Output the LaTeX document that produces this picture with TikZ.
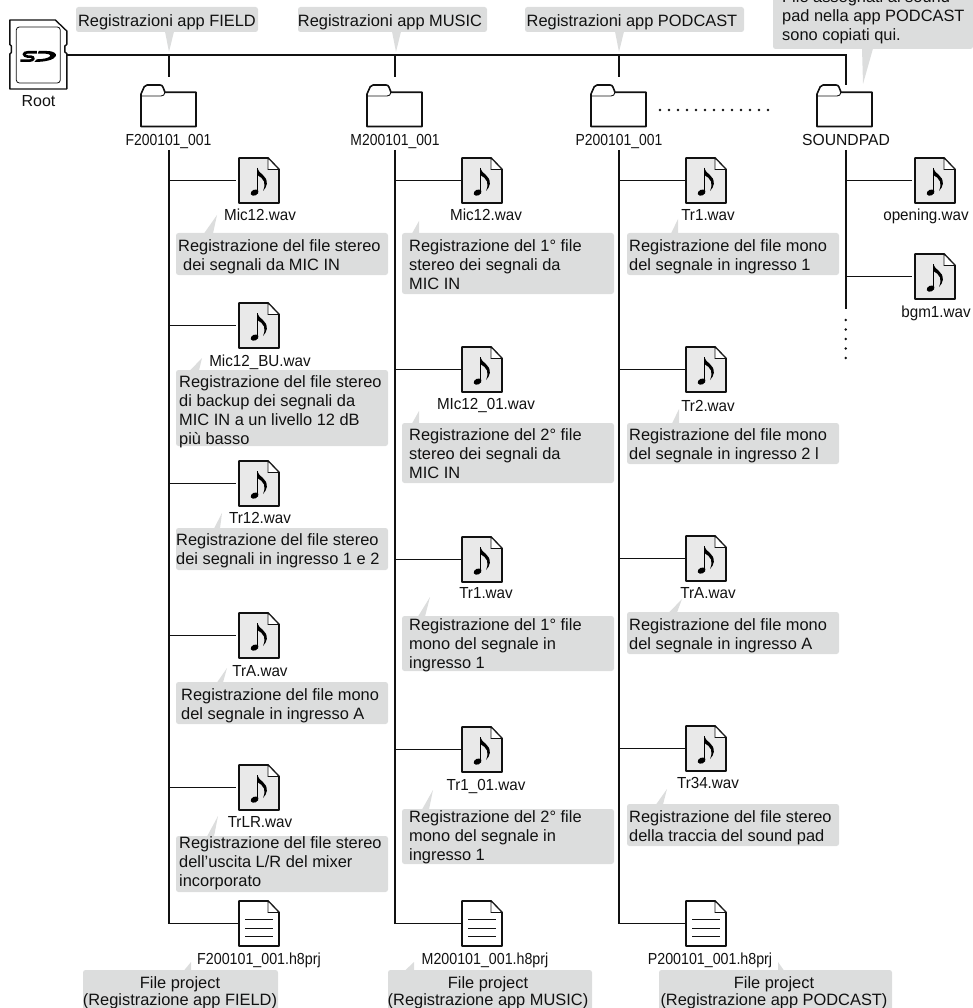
\documentclass[tikz,border=0pt]{standalone}
\usepackage{fontspec}
\setmainfont{Liberation Sans}
\definecolor{cgrey}{HTML}{DCDDDD}
\definecolor{fgrey}{HTML}{E9E9E9}
\definecolor{inkc}{HTML}{111111}
\tikzset{
  conn/.style={draw=inkc,line width=1.7pt},
  iconbox/.style={draw=none,inner sep=0pt,outer sep=0pt,minimum width=40pt,minimum height=45pt},
  folderbox/.style={draw=none,inner sep=0pt,outer sep=0pt,minimum width=55pt,minimum height=42pt},
  sdbox/.style={draw=none,inner sep=0pt,outer sep=0pt,minimum width=57pt,minimum height=69pt},
  lab/.style={inner sep=0pt,anchor=base,text=inkc,font=\fontsize{16}{19}\selectfont},
  squeeze/.style={xscale=#1,transform shape},
  say/.style={inner sep=0pt,anchor=north west,align=left,text=inkc,yshift=-.7pt,font=\fontsize{16.4}{19}\selectfont},
  saymid/.style={inner sep=0pt,anchor=north,align=center,text=inkc,yshift=-.4pt,font=\fontsize{16.4}{17.5}\selectfont},
  icon/.style={draw=inkc,line width=1.8pt,line join=round},
  dotc/.style={fill=inkc,draw=none}
}
% name, left x, top y
\newcommand\waviconn[3]{%
  \node[iconbox] (#1) at (#2+20,#3+22.5) {};
  \begin{scope}[shift={(#2,#3)}]
    \draw[icon,fill=fgrey] (0,0) -- (29,0) -- (40,11.5) -- (40,45) -- (0,45) -- cycle;
    \draw[line width=.8pt,draw=inkc,fill=white] (29,0) -- (29,11.5) -- (40,11.5) -- cycle;
    \draw[line width=1.1pt,draw=black] (18.7,10) -- (18.7,34);
    \fill[black,rotate around={25:(15.6,34.6)}] (15.6,34.6) ellipse (4.1 and 2.9);
    \fill[black] (18.2,10) .. controls (19.5,16) and (28.5,17) .. (27.8,26) .. controls (27.5,28.5) and (26,31) .. (24,33) .. controls (25.6,29) and (26,26) .. (25,23.5) .. controls (24,20.5) and (21,18.5) .. (18.2,17) -- cycle;
  \end{scope}}
\newcommand\prjiconn[3]{%
  \node[iconbox] (#1) at (#2+20,#3+22.5) {};
  \begin{scope}[shift={(#2,#3)}]
    \draw[icon,fill=white] (0,0) -- (29,0) -- (40,11.5) -- (40,45) -- (0,45) -- cycle;
    \draw[line width=.8pt,draw=inkc,fill=white] (29,0) -- (29,11.5) -- (40,11.5) -- cycle;
    \foreach \yy in {18.3,27,35.7} \draw[line width=.9pt,draw=inkc] (6.3,\yy) -- (34,\yy);
  \end{scope}}
\newcommand\foldericonn[2]{%
  \node[folderbox] (#1) at (#2+27.5,106) {};
  \begin{scope}[shift={(#2,85)}]
    \draw[icon,line width=1.6pt,fill=white] (0,9) -- (0,41.5) -- (55,41.5) -- (55,7.3) -- (24,7.3) -- (22,2.2) .. controls (21.5,.7) and (20.5,0) .. (19,0) -- (6,0) .. controls (4.5,0) and (3.8,.5) .. (3.2,1.8) -- cycle;
    \draw[line width=.9pt,draw=inkc] (0,11) -- (20,11) .. controls (22,11) and (23.5,10) .. (24,7.3);
  \end{scope}}
% x1 y1 x2 y2 basea baseb tipx tipy : bubble with a pointer on its top edge
\newcommand\bubbledown[8]{%
  \fill[cgrey,rounded corners=2.5pt] (#1,#2) rectangle (#3,#4);
  \fill[cgrey] (#5,#2+.5) -- (#7,#8) -- (#6,#2+.5) -- cycle;}
% same with pointer below
\newcommand\bubbleup[8]{%
  \fill[cgrey,rounded corners=2.5pt] (#1,#2) rectangle (#3,#4);
  \fill[cgrey] (#5,#4-.5) -- (#7,#8) -- (#6,#4-.5) -- cycle;}
\begin{document}
\begin{tikzpicture}[x=1pt,y=-1pt]
\useasboundingbox (0,0) rectangle (973,1008);
% ---- bubbles: top row
\bubbleup{76}{7}{258}{32}{165}{174}{169}{52}
\bubbleup{298}{7}{487}{32}{392}{401}{396}{52}
\bubbleup{525}{7}{744}{32}{615}{624}{619}{52}
\bubbleup{773}{-30}{973}{49}{862}{873}{863}{84}
\node[say,anchor=base] at (167,25.5) {Registrazioni app FIELD};
\node[say,anchor=base] at (390,25.5) {Registrazioni app MUSIC};
\node[say,anchor=base] at (632,25.5) {Registrazioni app PODCAST};
\node[say] at (782,-10.5) {File assegnati ai sound\\pad nella app PODCAST\\sono copiati qui.};
% ---- bubbles: column 1
\bubbledown{176}{233}{388}{275}{204}{213}{217}{215}
\bubbledown{176}{370}{388}{446}{190}{199}{202}{358}
\bubbledown{176}{528}{388}{570}{214}{220}{222}{513}
\bubbledown{176}{682}{388}{724}{217}{223}{227}{668}
\bubbledown{176}{836}{388}{892}{207}{214}{218}{816}
\bubbledown{83}{970}{278}{1012}{184}{191}{191}{962}
% column 2
\bubbledown{402}{233}{614}{294}{412}{419}{419}{221}
\bubbledown{402}{423}{614}{483}{412}{419}{419}{411}
\bubbledown{402}{616}{614}{671}{418}{425}{430}{597}
\bubbledown{402}{809}{614}{864}{422}{429}{433}{790}
\bubbledown{388}{970}{592}{1012}{405}{414}{414}{962}
% column 3
\bubbledown{627}{233}{839}{275}{671}{678}{678}{219}
\bubbledown{627}{423}{839}{464}{672}{679}{679}{409}
\bubbledown{627}{612}{839}{654}{669}{677}{682}{599}
\bubbledown{627}{804}{839}{846}{656}{663}{667}{789}
\bubbledown{659}{970}{892}{1012}{778}{784}{778}{962}
% ---- bubble texts
\node[say] at (178,239) {Registrazione del file stereo\\\hspace*{5pt}dei segnali da MIC IN};
\node[say] at (179,375) {Registrazione del file stereo\\di backup dei segnali da\\MIC IN a un livello 12 dB\\più basso};
\node[say] at (176,533) {Registrazione del file stereo\\dei segnali in ingresso 1 e 2};
\node[say] at (181,688) {Registrazione del file mono\\del segnale in ingresso A};
\node[say] at (179,836) {Registrazione del file stereo\\dell’uscita L/R del mixer\\incorporato};
\node[say] at (409,239) {Registrazione del 1° file\\stereo dei segnali da\\MIC IN};
\node[say] at (409,428) {Registrazione del 2° file\\stereo dei segnali da\\MIC IN};
\node[say] at (409,618) {Registrazione del 1° file\\mono del segnale in\\ingresso 1};
\node[say] at (409,810) {Registrazione del 2° file\\mono del segnale in\\ingresso 1};
\node[say] at (629,239) {Registrazione del file mono\\del segnale in ingresso 1};
\node[say] at (629,428) {Registrazione del file mono\\del segnale in ingresso 2 l};
\node[say] at (629,618) {Registrazione del file mono\\del segnale in ingresso A};
\node[say] at (629,810) {Registrazione del file stereo\\della traccia del sound pad};
\node[saymid] at (180,976) {File project\\(Registrazione app FIELD)};
\node[saymid] at (488,976) {File project\\(Registrazione app MUSIC)};
\node[saymid] at (774,976) {File project\\(Registrazione app PODCAST)};
% ---- SD card
\node[sdbox] (sd) at (38.3,54.5) {};
\begin{scope}[shift={(9.8,20)}]
  \draw[icon,fill=white,line width=1.4pt] (0,0) -- (45.5,0) -- (57,11) -- (57,24.5) -- (55,26) -- (55,32) -- (57,33.5) -- (57,69) -- (0,69) -- (0,34) -- (1.6,32.5) -- (1.6,26) -- (0,24.5) -- cycle;
  \draw[draw=inkc,line width=.8pt,rounded corners=3pt] (6.5,7) rectangle (50.5,63);
  \draw[black,line width=2.6pt] (27,32.3) -- (18,32.3) .. controls (13,32.3) and (13,36) .. (18,36.6) -- (21,36.6) .. controls (25,37) and (24,40.6) .. (20,40.6) -- (10.5,40.6);
  \fill[black] (29,31) -- (37,31) .. controls (44,31) and (47,33.5) .. (46,36) .. controls (44.5,40) and (35,42) .. (24.5,42) -- (27,39.3) .. controls (33,39.3) and (39.5,38) .. (40.5,36) .. controls (41,34.5) and (38,33.6) .. (33,33.6) -- (28,33.6) -- cycle;
\end{scope}
% ---- folders
\foldericonn{f1}{141}
\foldericonn{f2}{367}
\foldericonn{f3}{591}
\foldericonn{f4}{817}
% ---- icons, column 1
\waviconn{a1}{239}{158}
\waviconn{a2}{239}{303}
\waviconn{a3}{239}{461}
\waviconn{a4}{239}{613}
\waviconn{a5}{239}{765}
\prjiconn{a6}{239}{901}
% column 2
\waviconn{b1}{462}{158}
\waviconn{b2}{462}{347}
\waviconn{b3}{462}{537}
\waviconn{b4}{462}{727}
\prjiconn{b5}{462}{901}
% column 3
\waviconn{c1}{686}{158}
\waviconn{c2}{686}{347}
\waviconn{c3}{686}{536}
\waviconn{c4}{686}{726}
\prjiconn{c5}{686}{901}
% column 4
\waviconn{d1}{915}{158}
\waviconn{d2}{915}{254}
% ---- connectors
\coordinate (t1) at (169,55);
\coordinate (t2) at (395,55);
\coordinate (t3) at (619,55);
\coordinate (t4) at (845.7,55);
\coordinate (s1) at (169,150);
\coordinate (s2) at (395,150);
\coordinate (s3) at (619,150);
\coordinate (s4) at (845.7,150);
\coordinate (e4) at (845.7,309);
\draw[conn] (sd.east |- t1) -- (t4) -- (t4 |- f4.north) -- ++(0,-8);
\foreach \n in {1,2,3} \draw[conn] (t\n) -- ++(0,22);
\draw[conn] (s1) |- (a6.west);
\draw[conn] (s2) |- (b5.west);
\draw[conn] (s3) |- (c5.west);
\draw[conn] (s4) -- (e4);
\foreach \n in {a1,a2,a3,a4,a5} \draw[conn,shorten >=2.7pt] (s1 |- \n.west) -- (\n.west);
\foreach \n in {b1,b2,b3,b4} \draw[conn] (s2 |- \n.west) -- (\n.west);
\foreach \n in {c1,c2,c3,c4} \draw[conn] (s3 |- \n.west) -- (\n.west);
\foreach \n in {d1,d2} \draw[conn,shorten >=2.7pt] (s4 |- \n.west) -- (\n.west);
% ---- dots
\foreach \i in {0,...,12} \fill[dotc] (660+\i*9,110) circle (1.3);
\foreach \i in {0,...,4} \fill[dotc] (845.7,320+\i*9.5) circle (1.3);
% ---- labels
\node[lab] (lsd) at (38.5,107) {Root};
\node[lab,squeeze=.87] (lf1) at (168.5,145.5) {F200101\_001};
\node[lab,squeeze=.87] (lf2) at (395,145.5) {M200101\_001};
\node[lab,squeeze=.87] (lf3) at (619,145.5) {P200101\_001};
\node[lab,squeeze=.98] (lf4) at (846,145.5) {SOUNDPAD};
\foreach \n/\t/\xx/\yy in {
  la1/Mic12.wav/260/221, la2/Mic12\_BU.wav/260/366, la3/Tr12.wav/260/523, la4/TrA.wav/260/676, la5/TrLR.wav/260/827,
  lb1/Mic12.wav/486/221, lb2/MIc12\_01.wav/486/409, lb3/Tr1.wav/486/598, lb4/Tr1\_01.wav/486/790,
  lc1/Tr1.wav/708/221, lc2/Tr2.wav/708/411, lc3/TrA.wav/708/598, lc4/Tr34.wav/708/788,
  ld1/opening.wav/926/221, ld2/bgm1.wav/936/317}
  \node[lab,squeeze=.95] (\n) at (\xx,\yy) {\t};
\node[lab,squeeze=.89] (la6) at (259,964.5) {F200101\_001.h8prj};
\node[lab,squeeze=.89] (lb5) at (485,964.5) {M200101\_001.h8prj};
\node[lab,squeeze=.89] (lc5) at (710,964.5) {P200101\_001.h8prj};
\end{tikzpicture}
\end{document}
